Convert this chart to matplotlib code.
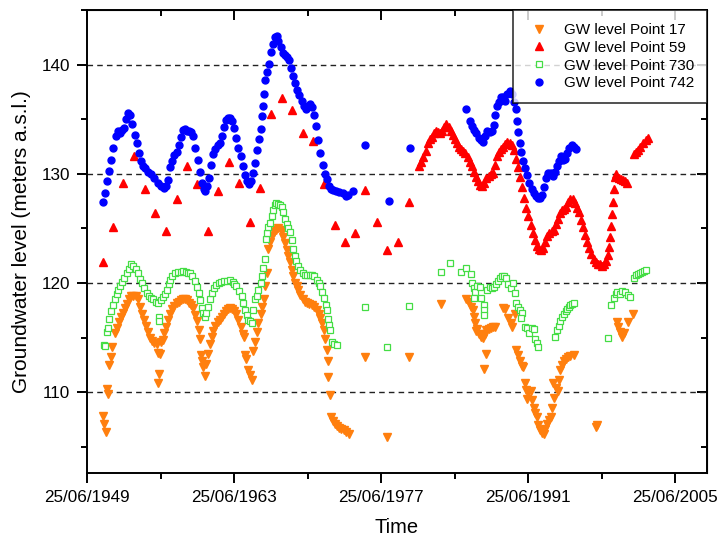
import matplotlib
matplotlib.use('Agg')
import matplotlib.pyplot as plt
from matplotlib.dates import date2num, DateFormatter
from matplotlib.ticker import FixedLocator, MultipleLocator
from datetime import datetime

plt.rcParams['font.family'] = ['Liberation Sans', 'DejaVu Sans']

# --- groundwater levels (decimal year, m a.s.l.) ---

# Point 742 (blue)
p742_t = [1951.0, 1951.2, 1951.4, 1951.6, 1951.8, 1952.0, 1952.2, 1952.4, 1952.6, 1952.8,
          1953.0, 1953.2, 1953.4, 1953.6, 1953.8, 1954.0, 1954.2, 1954.4, 1954.6, 1954.8,
          1955.0, 1955.3, 1955.6, 1955.9, 1956.2, 1956.5, 1956.8, 1957.0, 1957.2, 1957.4,
          1957.6, 1957.8, 1958.0, 1958.2, 1958.4, 1958.6, 1958.8, 1959.0, 1959.2, 1959.4,
          1959.6, 1959.8, 1960.0, 1960.2, 1960.4, 1960.6, 1960.75, 1960.9, 1961.1, 1961.3,
          1961.5, 1961.7, 1961.9, 1962.1, 1962.3, 1962.5, 1962.7, 1962.9, 1963.1, 1963.3,
          1963.5, 1963.7, 1963.9, 1964.1, 1964.3, 1964.5, 1964.7, 1964.9, 1965.1, 1965.3,
          1965.5, 1965.7, 1965.85, 1966.0, 1966.1, 1966.2, 1966.3, 1966.45, 1966.6, 1966.8,
          1967.0, 1967.2, 1967.4, 1967.55, 1967.7, 1967.9, 1968.1, 1968.3, 1968.5, 1968.7,
          1968.9, 1969.1, 1969.3, 1969.5, 1969.7, 1969.9, 1970.1, 1970.3, 1970.5, 1970.7,
          1970.9, 1971.1, 1971.3, 1971.5, 1971.7, 1971.9, 1972.1, 1972.3, 1972.5, 1972.7,
          1972.9, 1973.2, 1973.5, 1973.8, 1974.1, 1974.3, 1974.8,
          1975.96, 1978.2, 1980.24,
          1985.6, 1985.95, 1986.1, 1986.3, 1986.5, 1986.75, 1987.0, 1987.2, 1987.4, 1987.6,
          1987.8, 1988.0, 1988.2, 1988.35, 1988.5, 1988.7, 1988.9, 1989.1, 1989.3, 1989.5,
          1989.7, 1989.9, 1990.1, 1990.3, 1990.45, 1990.55, 1990.65, 1990.8, 1991.0, 1991.2,
          1991.4, 1991.6, 1991.8, 1992.0, 1992.2, 1992.4, 1992.6, 1992.8, 1993.0, 1993.2,
          1993.4, 1993.6, 1993.8, 1994.0, 1994.2, 1994.4, 1994.6, 1994.8, 1995.0, 1995.2,
          1995.4, 1995.6, 1995.8, 1996.0]
p742_v = [127.4, 128.2, 129.3, 130.3, 131.3, 132.4, 133.5, 133.9, 133.7, 134.0,
          134.2, 135.0, 135.6, 135.4, 134.6, 133.6, 132.8, 131.9, 131.2, 130.7,
          130.5, 130.2, 130.0, 129.6, 129.2, 128.9, 128.7, 128.9, 129.4, 130.6,
          131.2, 131.7, 132.0, 132.6, 133.4, 134.0, 134.1, 133.9, 133.9, 133.8,
          133.5, 132.4, 131.3, 130.2, 129.2, 128.6, 128.4, 128.9, 129.6, 130.8,
          131.8, 132.3, 132.6, 132.8, 133.5, 134.3, 134.9, 135.1, 135.1, 134.8,
          134.2, 133.3, 132.4, 131.6, 130.7, 129.9, 129.3, 129.1, 129.3, 130.1,
          131.0, 132.2, 133.2, 134.1, 135.3, 136.2, 137.3, 138.6, 139.3, 140.1,
          141.2, 141.9, 142.5, 142.6, 142.2, 141.6, 141.1, 140.9, 140.7, 140.4,
          139.7, 139.0, 138.3, 137.7, 137.2, 136.7, 136.2, 135.9, 136.2, 136.4,
          136.1, 135.4, 134.4, 133.1, 131.9, 130.8, 130.0, 129.5, 128.9, 128.6,
          128.5, 128.4, 128.3, 128.2, 128.0, 128.1, 128.4,
          132.6, 127.5, 132.4,
          135.9, 134.8, 134.4, 134.0, 133.7, 133.3, 133.1, 132.9, 133.5, 133.9,
          133.8, 133.9, 134.5, 135.4, 136.2, 136.6, 137.0, 137.0, 136.7, 137.3,
          137.6, 137.3, 136.6, 135.9, 134.8, 133.8, 132.8, 132.0, 131.2, 130.5,
          129.9, 129.2, 128.6, 128.2, 128.0, 127.8, 127.8, 128.1, 128.8, 129.6,
          130.1, 130.1, 129.8, 130.2, 130.7, 131.2, 131.6, 131.3, 131.4, 131.9,
          132.4, 132.6, 132.5, 132.3]

# Point 59 (red)
p59_t = [1950.97, 1951.98, 1952.94, 1953.96, 1955.0, 1955.96, 1957.0, 1958.0, 1958.97, 1959.98,
         1960.97, 1961.98, 1963.0, 1963.98, 1965.0, 1965.98, 1967.0, 1968.0, 1969.0, 1970.0,
         1971.0, 1972.0, 1973.05, 1974.0, 1975.0, 1975.96, 1977.1, 1978.0, 1979.05, 1980.1,
         1981.1, 1981.3, 1981.5, 1981.7, 1981.9, 1982.1, 1982.3, 1982.5, 1982.7, 1982.9,
         1983.1, 1983.3, 1983.5, 1983.7, 1983.9, 1984.1, 1984.3, 1984.5, 1984.7, 1984.9,
         1985.1, 1985.3, 1985.5, 1985.7, 1985.9, 1986.1, 1986.3, 1986.5, 1986.7, 1986.9,
         1987.1, 1987.3, 1987.5, 1987.7, 1987.9, 1988.1, 1988.3, 1988.5, 1988.7, 1988.9,
         1989.1, 1989.3, 1989.5, 1989.7, 1989.9, 1990.1, 1990.3, 1990.5, 1990.7, 1990.9,
         1991.1, 1991.3, 1991.5, 1991.7, 1991.9, 1992.1, 1992.3, 1992.5, 1992.7, 1992.9,
         1993.1, 1993.3, 1993.5, 1993.7, 1993.9, 1994.1, 1994.3, 1994.5, 1994.7, 1994.9,
         1995.1, 1995.3, 1995.5, 1995.7, 1995.9, 1996.1, 1996.3, 1996.5, 1996.7, 1996.9,
         1997.1, 1997.3, 1997.5, 1997.7, 1997.9, 1998.1, 1998.3, 1998.5, 1998.7, 1998.9,
         1999.05, 1999.15, 1999.25, 1999.35, 1999.45, 1999.55, 1999.65, 1999.75, 1999.85, 2000.1,
         2000.3, 2000.5, 2000.7, 2000.9, 2001.5, 2001.7, 2001.9, 2002.1, 2002.4, 2002.7,
         2002.9]
p59_v = [121.9, 125.15, 129.2, 131.6, 128.6, 126.4, 124.75, 127.7, 130.7, 129.1,
         124.8, 128.4, 131.1, 129.2, 125.6, 128.7, 135.5, 136.95, 135.8, 133.7,
         133.0, 129.1, 125.3, 123.8, 124.6, 128.5, 125.6, 123.0, 123.8, 127.4,
         130.7, 131.1, 131.5, 132.1, 132.8, 133.2, 133.4, 133.7, 133.9, 133.8,
         133.7, 133.9, 134.3, 134.6, 134.3, 133.9, 133.6, 133.2, 132.8, 132.5,
         132.3, 132.1, 131.9, 131.5, 131.1, 130.7, 130.2, 129.7, 129.3, 129.0,
         128.9, 129.2, 129.6, 129.8, 130.0, 130.1, 130.8, 131.6, 132.0, 132.3,
         132.5, 132.7, 132.9, 132.8, 132.6, 132.2, 131.4, 130.6, 129.7, 128.8,
         127.8, 126.9, 126.1, 125.3, 124.6, 123.9, 123.4, 123.1, 123.0, 123.2,
         123.8, 124.3, 124.6, 124.8, 124.9, 125.4, 125.9, 126.4, 126.7, 126.8,
         127.0, 127.4, 127.7, 127.7, 127.3, 126.9, 126.5, 125.8, 125.1, 124.4,
         123.8, 123.2, 122.7, 122.2, 121.9, 121.7, 121.7, 121.6, 121.7, 122.0,
         122.6, 123.3, 124.2, 125.2, 126.3, 127.4, 128.6, 129.7, 130.0, 129.6,
         129.5, 129.4, 129.3, 129.2, 131.8, 132.0, 132.2, 132.5, 132.8, 133.1,
         133.3]

# Point 730 (green, open squares)
p730_t = [1951.1, 1951.2, 1951.4, 1951.45, 1951.6, 1951.8, 1951.95, 1952.1, 1952.3, 1952.45,
          1952.6, 1952.8, 1953.0, 1953.25, 1953.45, 1953.7, 1953.9, 1954.1, 1954.3, 1954.5,
          1954.7, 1954.9, 1955.15, 1955.4, 1955.6, 1955.8, 1956.0, 1956.2, 1956.33, 1956.35,
          1956.5, 1956.7, 1956.9, 1957.1, 1957.25, 1957.4, 1957.6, 1957.9, 1958.1, 1958.4,
          1958.65, 1958.9, 1959.1, 1959.3, 1959.5, 1959.76, 1959.95, 1960.1, 1960.25, 1960.4,
          1960.55, 1960.7, 1960.85, 1961.0, 1961.2, 1961.35, 1961.55, 1961.8, 1962.0, 1962.25,
          1962.5, 1962.8, 1963.1, 1963.35, 1963.5, 1963.7, 1963.95, 1964.2, 1964.35, 1964.5,
          1964.7, 1964.8, 1965.0, 1965.16, 1965.3, 1965.5, 1965.65, 1965.8, 1966.0, 1966.1,
          1966.25, 1966.4, 1966.5, 1966.6, 1966.75, 1966.9, 1967.05, 1967.2, 1967.35, 1967.5,
          1967.7, 1967.85, 1968.0, 1968.15, 1968.3, 1968.5, 1968.65, 1968.8, 1968.95, 1969.1,
          1969.25, 1969.4, 1969.6, 1969.77, 1970.0, 1970.2, 1970.45, 1970.7, 1970.9, 1971.1,
          1971.4, 1971.55, 1971.7, 1971.85, 1972.0, 1972.2, 1972.3, 1972.45, 1972.55, 1972.65,
          1972.8, 1972.95, 1973.25,
          1975.96, 1978.0, 1980.1, 1983.2, 1984.05,
          1985.1, 1985.6, 1986.0, 1986.1, 1986.3, 1986.45, 1986.6, 1986.3, 1986.9, 1987.0,
          1987.3, 1987.25, 1987.3, 1987.6, 1987.8, 1988.0, 1988.2, 1988.4, 1988.6, 1988.8,
          1988.97, 1989.2, 1989.4, 1989.6, 1989.8, 1990.0, 1990.2, 1990.3, 1990.5, 1990.7,
          1990.9, 1990.8, 1991.2, 1991.4, 1991.6, 1991.8, 1992.0, 1992.15, 1992.3, 1992.4,
          1994.05, 1994.2, 1994.4, 1994.55, 1994.7, 1994.9, 1995.05, 1995.2, 1995.35, 1995.5,
          1995.65, 1995.8,
          1999.05, 1999.4, 1999.6, 1999.8, 1999.95, 2000.2, 2000.4, 2000.7, 2000.95, 2001.2,
          2001.5, 2001.7, 2001.9, 2002.1, 2002.3, 2002.5, 2002.7]
p730_v = [114.3, 114.2, 115.5, 115.9, 116.7, 117.4, 118.0, 118.5, 119.0, 119.4,
          119.7, 120.1, 120.5, 120.9, 121.3, 121.7, 121.6, 121.3, 120.9, 120.4,
          120.0, 119.5, 119.1, 118.8, 118.6, 118.5, 118.3, 118.2, 116.9, 116.5,
          118.4, 118.7, 119.0, 119.4, 119.9, 120.3, 120.6, 120.9, 121.0, 121.0,
          121.1, 121.0, 120.9, 120.9, 120.6, 120.15, 119.6, 119.1, 118.4, 117.7,
          117.3, 116.9, 117.3, 117.8, 118.5, 119.1, 119.5, 119.85, 120.0, 120.1,
          120.15, 120.2, 120.3, 120.1, 119.9, 119.7, 119.3, 118.8, 118.2, 117.5,
          117.1, 116.6, 116.5, 116.3, 117.5, 118.5, 118.8, 119.4, 120.0, 120.6,
          121.4, 122.2, 124.0, 124.6, 125.1, 125.5, 126.1, 126.7, 127.1, 127.3,
          127.2, 127.1, 127.0, 126.5, 125.9, 125.4, 125.0, 124.7, 123.9, 123.1,
          122.5, 122.0, 121.6, 121.2, 120.9, 120.7, 120.7, 120.7, 120.7, 120.6,
          120.3, 120.0, 119.7, 119.2, 118.6, 118.0, 117.5, 116.7, 116.2, 115.7,
          114.6, 114.4, 114.3,
          117.8, 114.1, 117.9, 121.0, 121.85,
          121.0, 121.4, 120.8, 120.0, 119.5, 119.2, 119.7, 118.6, 119.6, 118.6,
          118.0, 117.5, 117.1, 119.4, 119.6, 119.5, 119.6, 119.9, 120.2, 120.5,
          120.6, 120.6, 120.5, 119.9, 119.5, 120.0, 119.1, 118.2, 117.8, 117.5,
          117.3, 116.8, 116.0, 115.9, 115.4, 115.9, 115.8, 114.9, 114.5, 114.1,
          115.1, 115.7, 116.1, 116.5, 116.9, 117.2, 117.4, 117.6, 117.8, 118.0,
          118.1, 118.2,
          115.0, 118.0, 118.6, 119.0, 119.2, 119.0, 119.3, 119.2, 118.9, 118.7,
          120.5, 120.7, 120.8, 120.9, 121.0, 121.1, 121.2]

# Point 17 (orange)
p17_t = [1950.97, 1951.05, 1951.25, 1951.4, 1951.45, 1951.6, 1951.8, 1951.9, 1952.1, 1952.3,
         1952.5, 1952.7, 1952.9, 1953.1, 1953.3, 1953.5, 1953.7, 1953.9, 1954.1, 1954.3,
         1954.5, 1954.7, 1954.9, 1955.1, 1955.3, 1955.5, 1955.7, 1955.9, 1956.1, 1956.25,
         1956.3, 1956.2, 1956.45, 1956.55, 1956.7, 1956.85, 1957.0, 1957.2, 1957.4, 1957.6,
         1957.8, 1958.0, 1958.2, 1958.4, 1958.6, 1958.8, 1959.0, 1959.2, 1959.4, 1959.6,
         1959.8, 1959.95, 1960.1, 1960.25, 1960.35, 1960.45, 1960.55, 1960.7, 1960.85, 1961.0,
         1961.2, 1961.35, 1961.5, 1961.7, 1961.9, 1962.1, 1962.3, 1962.5, 1962.7, 1962.9,
         1963.1, 1963.3, 1963.5, 1963.7, 1963.9, 1964.1, 1964.3, 1964.4, 1964.5, 1964.6,
         1964.8, 1965.0, 1965.16, 1965.3, 1965.5, 1965.65, 1965.8, 1966.0, 1966.15, 1966.3,
         1966.45, 1966.6, 1966.75, 1966.9, 1967.07, 1967.3, 1967.5, 1967.7, 1967.9, 1968.0,
         1968.15, 1968.3, 1968.5, 1968.65, 1968.8, 1968.95, 1969.1, 1969.3, 1969.45, 1969.6,
         1969.8, 1970.0, 1970.2, 1970.4, 1970.6, 1970.9, 1971.1, 1971.4, 1971.55, 1971.7,
         1971.85, 1972.0, 1972.15, 1972.3, 1972.45, 1972.4, 1972.6, 1972.75, 1972.9, 1973.1,
         1973.25, 1973.5, 1973.7, 1973.9, 1974.1, 1974.4,
         1975.96, 1978.0, 1980.1, 1983.2,
         1985.6, 1985.8, 1986.0, 1986.2, 1986.35, 1986.45, 1986.5, 1986.6, 1986.8, 1987.0,
         1987.2, 1987.35, 1987.5, 1987.7, 1987.9, 1988.1, 1988.3, 1987.5, 1987.3, 1989.1,
         1989.3, 1989.6, 1989.8, 1989.9, 1990.2, 1990.35, 1990.5, 1990.7, 1990.9, 1991.0,
         1991.15, 1991.25, 1991.35, 1991.5, 1991.7, 1991.85, 1992.0, 1992.15, 1992.3, 1992.45,
         1992.6, 1992.8, 1992.95, 1993.1, 1993.3, 1993.45, 1993.6, 1993.75, 1993.9, 1993.85,
         1994.1, 1994.3, 1994.4, 1994.55, 1994.7, 1994.9, 1995.1, 1995.3, 1995.5, 1995.8,
         1997.95, 1998.0,
         1999.9, 2000.05, 2000.2, 2000.4, 2000.6, 2001.0, 2001.45]
p17_v = [107.8, 107.1, 106.4, 110.3, 109.8, 112.5, 113.2, 114.1, 115.4, 115.9,
         116.4, 116.9, 117.3, 117.7, 118.1, 118.5, 118.8, 118.8, 118.8, 118.5,
         117.8, 117.2, 116.6, 116.1, 115.5, 115.0, 114.7, 114.5, 114.4, 113.6,
         111.7, 110.8, 113.5, 114.6, 114.8, 115.4, 116.0, 116.6, 117.2, 117.6,
         117.9, 118.2, 118.3, 118.4, 118.5, 118.5, 118.4, 118.2, 118.0, 117.7,
         117.1, 116.5, 115.7, 114.9, 113.4, 112.9, 112.3, 111.5, 112.6, 113.5,
         114.4, 115.1, 115.6, 116.1, 116.4, 116.6, 116.9, 117.2, 117.4, 117.6,
         117.7, 117.6, 117.4, 117.2, 116.6, 116.0, 115.3, 115.1, 113.4, 113.0,
         112.0, 111.6, 111.1, 113.8, 114.6, 115.5, 116.3, 117.2, 117.8, 118.5,
         119.7, 120.9, 123.1, 123.8, 124.3, 124.7, 124.9, 125.0, 124.9, 124.8,
         124.2, 123.7, 123.0, 122.5, 121.9, 121.2, 120.6, 120.0, 119.7, 119.4,
         118.9, 118.5, 118.3, 118.2, 118.1, 118.0, 117.8, 117.5, 117.2, 116.8,
         116.3, 115.7, 114.9, 113.9, 112.9, 111.4, 109.7, 107.7, 107.4, 107.1,
         106.9, 106.7, 106.6, 106.5, 106.4, 106.2,
         113.2, 105.9, 113.2, 118.1,
         118.5, 118.3, 117.8, 117.5, 116.9, 116.3, 115.6, 115.8, 115.3, 115.1,
         115.0, 115.3, 115.7, 115.8, 115.9, 116.0, 116.0, 113.5, 112.1, 117.7,
         117.6, 116.8, 116.3, 116.0, 117.2, 113.9, 113.4, 112.9, 112.4, 112.3,
         110.8, 110.2, 109.4, 110.0, 110.1, 109.3, 108.6, 108.1, 107.7, 107.0,
         106.5, 106.3, 106.2, 106.6, 107.1, 107.5, 107.7, 108.6, 109.5, 110.8,
         110.4, 110.1, 111.1, 112.0, 112.5, 112.9, 113.0, 113.2, 113.3, 113.4,
         106.8, 107.0,
         116.4, 116.0, 115.5, 115.1, 115.4, 116.4, 117.2]

labels = ['GW level Point 17', 'GW level Point 59', 'GW level Point 730', 'GW level Point 742']
tick_years = [1949, 1963, 1977, 1991, 2005]


def yr2num(y):
    # decimal year -> matplotlib date number
    base = int(y)
    return date2num(datetime(base, 1, 1)) + (y - base) * 365.25


fig = plt.figure(figsize=(7.18, 5.39), dpi=100)
ax = fig.add_axes([0.1212, 0.1224, 0.8635, 0.8590])

ax.plot([yr2num(t) for t in p17_t], p17_v, 'v', color='#ff7f0e', ms=6, mec='#ff7f0e',
        ls='none', label=labels[0], zorder=3)
ax.plot([yr2num(t) for t in p59_t], p59_v, '^', color='#ff0000', ms=6, mec='#ff0000',
        ls='none', label=labels[1], zorder=3)
ax.plot([yr2num(t) for t in p730_t], p730_v, 's', mfc='white', mec='#44dd44', ms=4.5, mew=0.9,
        ls='none', label=labels[2], zorder=3)
ax.plot([yr2num(t) for t in p742_t], p742_v, 'o', color='#0000ff', ms=5, mec='#0000ff',
        ls='none', label=labels[3], zorder=3)

# x axis: fixed dates every 14 years, minor half way
major = [date2num(datetime(y, 6, 25)) for y in tick_years]
minor = [date2num(datetime(y + 7, 6, 25)) for y in tick_years[:-1]]
ax.xaxis.set_major_locator(FixedLocator(major))
ax.xaxis.set_minor_locator(FixedLocator(minor))
ax.xaxis.set_major_formatter(DateFormatter('%d/%m/%Y'))
ax.set_xlim(major[0], yr2num(2008.5))

ax.set_ylim(102.6, 145.0)
ax.yaxis.set_major_locator(FixedLocator([110, 120, 130, 140]))
ax.yaxis.set_minor_locator(MultipleLocator(5))

for sp in ax.spines.values():
    sp.set_linewidth(1.4)

ax.tick_params(which='major', direction='out', length=7, width=1.4, labelsize=12.3, pad=5)
ax.tick_params(which='minor', direction='out', length=4, width=1.4)

# mirrored ticks on top and right, pointing inward
topx = ax.secondary_xaxis('top')
topx.xaxis.set_major_locator(FixedLocator(major))
topx.xaxis.set_minor_locator(FixedLocator(minor))
topx.tick_params(which='major', direction='in', length=7, width=1.4, labeltop=False)
topx.tick_params(which='minor', direction='in', length=4, width=1.4)
righty = ax.secondary_yaxis('right')
righty.yaxis.set_major_locator(FixedLocator([110, 120, 130, 140]))
righty.yaxis.set_minor_locator(MultipleLocator(5))
righty.tick_params(which='major', direction='in', length=7, width=1.4, labelright=False)
righty.tick_params(which='minor', direction='in', length=4, width=1.4)

ax.yaxis.grid(True, which='major', color='#222222', linestyle=(0, (4, 3)), linewidth=1.0)

ax.set_xlabel('Time', fontsize=14.5, va='top')
ax.xaxis.set_label_coords(0.5, -0.098)
ax.set_ylabel('Groundwater level (meters a.s.l.)', fontsize=15, labelpad=8)

leg = ax.legend(loc='upper right', fontsize=11, frameon=True, fancybox=False,
                edgecolor='black', borderaxespad=0, handletextpad=0.8, labelspacing=0.25,
                borderpad=0.85, handlelength=1.7)
leg.get_frame().set_linewidth(1.2)
leg.set_zorder(5)

fig.savefig('out.png', dpi=100)
